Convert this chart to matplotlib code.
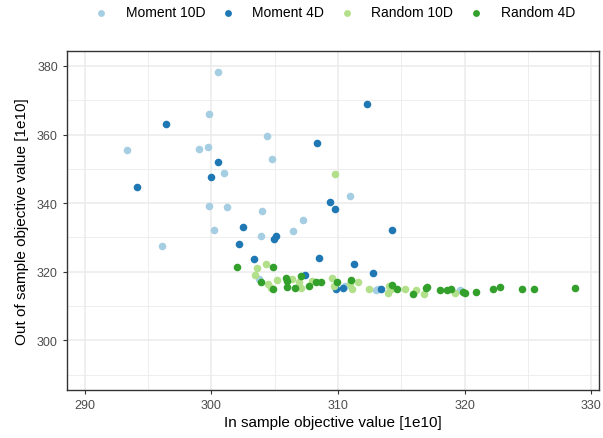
import matplotlib
matplotlib.use("Agg")
import matplotlib.pyplot as plt
from matplotlib.ticker import MultipleLocator

plt.rcParams['font.family'] = ['Liberation Sans', 'DejaVu Sans']

# in sample / out of sample objective values [1e10]
moment10_x = [300.55, 299.84, 293.35, 299.05, 299.74, 301.03, 304.76, 304.4, 310.92, 299.84,
              301.24, 304.0, 307.26, 300.18, 306.45, 303.92, 296.13, 303.75, 310.58, 313.13,
              313.0, 319.66]
moment10_y = [378.25, 366.1, 355.4, 355.7, 356.3, 348.7, 353.0, 359.5, 342.0, 339.2,
              338.9, 337.7, 335.0, 332.3, 331.8, 330.35, 327.4, 318.0, 315.9, 314.9,
              314.6, 314.7]

moment4_x = [296.4, 300.55, 299.97, 294.1, 312.29, 308.37, 309.34, 309.76, 302.5, 305.13,
             304.92, 302.15, 308.5, 303.34, 311.26, 312.76, 314.26, 307.4, 309.84, 310.37,
             313.4]
moment4_y = [363.0, 351.9, 347.6, 344.8, 368.9, 357.6, 340.3, 338.2, 333.0, 330.35,
             329.5, 328.0, 324.0, 323.6, 322.3, 319.5, 332.2, 319.0, 315.1, 315.4,
             315.1]

random10_x = [309.73, 303.58, 304.34, 303.45, 304.44, 304.71, 305.21, 306.35, 306.95, 307.08,
              307.92, 309.53, 309.7, 310.97, 311.55, 311.15, 312.47, 314.05, 314.18, 313.99,
              315.3, 316.16, 316.76, 319.23]
random10_y = [348.5, 321.2, 322.4, 319.1, 316.4, 315.4, 317.5, 318.0, 316.9, 315.4,
              317.3, 318.3, 315.9, 316.4, 317.1, 315.1, 315.1, 315.9, 314.9, 313.9,
              314.9, 314.6, 313.6, 313.9]

random4_x = [302.03, 304.9, 303.92, 304.84, 305.9, 306.0, 307.08, 306.6, 306.0, 307.73,
             308.26, 308.66, 309.89, 311.07, 314.26, 314.63, 315.9, 316.95, 317.07, 318.07,
             318.6, 318.92, 319.9, 320.0, 320.9, 322.26, 322.79, 324.5, 325.47, 328.73]
random4_y = [321.4, 321.4, 317.1, 315.1, 318.3, 317.3, 318.7, 315.4, 315.6, 315.9,
             317.1, 316.9, 316.9, 317.6, 316.1, 314.9, 313.4, 315.4, 315.6, 314.6,
             314.6, 314.9, 314.1, 313.7, 314.0, 314.9, 315.6, 314.9, 314.9, 315.4]

labels = ['Moment 10D', 'Moment 4D', 'Random 10D', 'Random 4D']
colors = ['#a6cee3', '#1f78b4', '#b2df8a', '#33a02c']

fig = plt.figure(figsize=(6.03, 4.39), dpi=100)
ax = fig.add_axes([0.111, 0.109, 0.882, 0.773])

series = [(moment10_x, moment10_y), (moment4_x, moment4_y),
          (random10_x, random10_y), (random4_x, random4_y)]
for (xs, ys), lab, col in zip(series, labels, colors):
    ax.scatter(xs, ys, s=30, color=col, label=lab, linewidths=0, zorder=3)

ax.set_xlim(288.6, 330.6)
ax.set_ylim(285.5, 384.4)
ax.xaxis.set_major_locator(MultipleLocator(10))
ax.xaxis.set_minor_locator(MultipleLocator(5))
ax.yaxis.set_major_locator(MultipleLocator(20))
ax.yaxis.set_minor_locator(MultipleLocator(10))
ax.grid(which='major', color='#ebebeb', linewidth=1.1, zorder=0)
ax.grid(which='minor', color='#ebebeb', linewidth=0.6, zorder=0)
ax.set_axisbelow(True)
for sp in ax.spines.values():
    sp.set_color('#333333')
    sp.set_linewidth(1.0)
ax.tick_params(which='major', length=3, width=0.8, color='#333333',
               labelsize=9, labelcolor='#4d4d4d')
ax.tick_params(which='minor', length=0)

ax.set_xlabel('In sample objective value [1e10]', fontsize=11, labelpad=3)
ax.set_ylabel('Out of sample objective value [1e10]', fontsize=11, labelpad=6)

fig.legend(loc='center', bbox_to_anchor=(0.552, 0.97), ncol=4, frameon=False,
           fontsize=10, handletextpad=1.0, columnspacing=0.9, markerscale=0.9,
           handlelength=1.5)

fig.savefig('out.png', dpi=100)
